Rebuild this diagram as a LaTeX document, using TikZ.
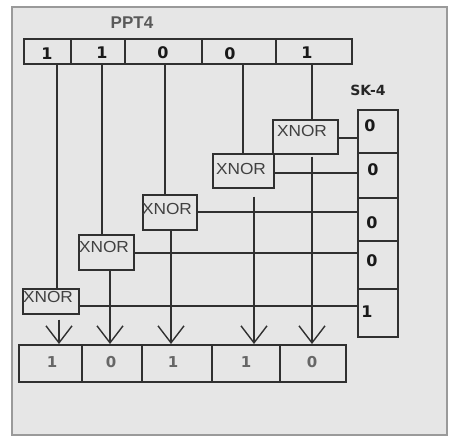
\documentclass[tikz,border=0pt]{standalone}
\usepackage{fontspec}
\setmainfont{Liberation Sans}
\newfontfamily\dejavu{DejaVu Sans}
\usetikzlibrary{arrows.meta}
\definecolor{bggray}{HTML}{E6E6E6}
\definecolor{ink}{HTML}{303030}
\definecolor{frame}{HTML}{9A9A9A}
\begin{document}
\begin{tikzpicture}[x=1pt,y=-1pt,
  cellbox/.style={draw=ink, line width=1.6pt, fill=none, inner sep=0pt, anchor=north west},
  bit/.style={font=\dejavu\bfseries\fontsize{16}{16}\selectfont, text=black!90, inner sep=0pt},
  outbit/.style={font=\dejavu\bfseries\fontsize{15}{15}\selectfont, text=black!60, inner sep=0pt},
  gatetxt/.style={font=\fontsize{16}{16}\selectfont, text=black!75, inner sep=0pt, xscale=1.08},
  wire/.style={draw=ink, line width=1.4pt},
  arr/.style={wire, -{Straight Barb[length=17pt, width=26pt, line width=1.4pt]}},
  title/.style={inner sep=0pt}
]
\useasboundingbox (0,0) rectangle (449,438);
\fill[white] (0,0) rectangle (449,438);
\draw[frame, fill=bggray, line width=1.5pt] (12,7) rectangle (447,435);

% titles
\node[title, font=\bfseries\fontsize{17}{17}\selectfont, text=black!65] (ppt) at (132,23) {PPT4};
\node[title, font=\dejavu\bfseries\fontsize{14}{14}\selectfont, text=black!85] (sk) at (368,90) {SK-4};

% top row
\node[cellbox, minimum width=47pt, minimum height=25pt] (t1) at (23,38) {};
\node[cellbox, minimum width=54pt, minimum height=25pt] (t2) at (70,38) {};
\node[cellbox, minimum width=77pt, minimum height=25pt] (t3) at (124,38) {};
\node[cellbox, minimum width=74pt, minimum height=25pt] (t4) at (201,38) {};
\node[cellbox, minimum width=76pt, minimum height=25pt] (t5) at (275,38) {};
\node[bit] (tb1) at (47,54) {1};
\node[bit] (tb2) at (102,53) {1};
\node[bit] (tb3) at (163,53) {0};
\node[bit] (tb4) at (230,54) {0};
\node[bit] (tb5) at (307,53) {1};

% SK column
\node[cellbox, minimum width=40pt, minimum height=43pt] (s1) at (357,109) {};
\node[cellbox, minimum width=40pt, minimum height=45pt] (s2) at (357,152) {};
\node[cellbox, minimum width=40pt, minimum height=43pt] (s3) at (357,197) {};
\node[cellbox, minimum width=40pt, minimum height=48pt] (s4) at (357,240) {};
\node[cellbox, minimum width=40pt, minimum height=48pt] (s5) at (357,288) {};
\node[bit] (sb1) at (370,126) {0};
\node[bit] (sb2) at (373,170) {0};
\node[bit] (sb3) at (372,223) {0};
\node[bit] (sb4) at (372,261) {0};
\node[bit] (sb5) at (367,312) {1};

% XNOR gates
\node[cellbox, minimum width=65pt, minimum height=34pt] (x1) at (272,119) {};
\node[cellbox, minimum width=61pt, minimum height=34pt] (x2) at (212,153) {};
\node[cellbox, minimum width=54pt, minimum height=35pt] (x3) at (142,194) {};
\node[cellbox, minimum width=55pt, minimum height=35pt] (x4) at (78,234) {};
\node[cellbox, minimum width=56pt, minimum height=25pt] (x5) at (22,288) {};
\node[gatetxt] (g1) at (302,131) {XNOR};
\node[gatetxt] (g2) at (241,169) {XNOR};
\node[gatetxt] (g3) at (167,209) {XNOR};
\node[gatetxt] (g4) at (104,247) {XNOR};
\node[gatetxt] (g5) at (48,297) {XNOR};

% output row
\node[cellbox, minimum width=63pt, minimum height=37pt] (o1) at (18,344) {};
\node[cellbox, minimum width=60pt, minimum height=37pt] (o2) at (81,344) {};
\node[cellbox, minimum width=70pt, minimum height=37pt] (o3) at (141,344) {};
\node[cellbox, minimum width=68pt, minimum height=37pt] (o4) at (211,344) {};
\node[cellbox, minimum width=66pt, minimum height=37pt] (o5) at (279,344) {};
\node[outbit] (ob1) at (52,362) {1};
\node[outbit] (ob2) at (111,362) {0};
\node[outbit] (ob3) at (173,362) {1};
\node[outbit] (ob4) at (246,362) {1};
\node[outbit] (ob5) at (312,362) {0};

% wire positions
\coordinate (a1) at (57,0);
\coordinate (a2) at (102,0);
\coordinate (a3) at (165,0);
\coordinate (a4) at (243,0);
\coordinate (a5) at (312,0);
\coordinate (b1) at (59,0);
\coordinate (b2) at (110,0);
\coordinate (b3) at (171,0);
\coordinate (b4) at (254,0);
\coordinate (b5) at (312,0);
\coordinate (h1) at (0,138);
\coordinate (h2) at (0,173);
\coordinate (h3) at (0,212);
\coordinate (h4) at (0,253);
\coordinate (h5) at (0,306);

% inputs from PPT4
\draw[wire] (t1.south -| a1) -- (x5.north -| a1);
\draw[wire] (t2.south -| a2) -- (x4.north -| a2);
\draw[wire] (t3.south -| a3) -- (x3.north -| a3);
\draw[wire] (t4.south -| a4) -- (x2.north -| a4);
\draw[wire] (t5.south -| a5) -- (x1.north -| a5);

% inputs from SK-4
\draw[wire] (x1.east |- h1) -- (s1.west |- h1);
\draw[wire] (x2.east |- h2) -- (s2.west |- h2);
\draw[wire] (x3.east |- h3) -- (s3.west |- h3);
\draw[wire] (x4.east |- h4) -- (s4.west |- h4);
\draw[wire] (x5.east |- h5) -- (s5.west |- h5);

% outputs
\draw[arr] ([yshift=-5pt]x5.south -| b1) -- (o1.north -| b1);
\draw[arr] (x4.south -| b2) -- (o2.north -| b2);
\draw[arr] (x3.south -| b3) -- (o3.north -| b3);
\draw[arr] ([yshift=-8pt]x2.south -| b4) -- (o4.north -| b4);
\draw[arr] ([yshift=-2pt]x1.south -| b5) -- (o5.north -| b5);
\end{tikzpicture}
\end{document}
